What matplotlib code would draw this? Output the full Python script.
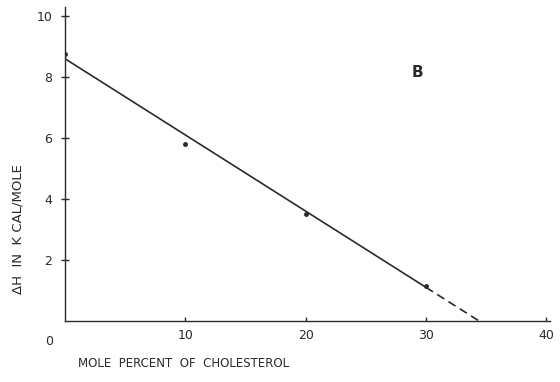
import numpy as np
import matplotlib
matplotlib.use("Agg")
import matplotlib.pyplot as plt

# measured points (mole % cholesterol vs dH in kcal/mole)
chol = [0, 10, 20, 30]
dh = [8.75, 5.8, 3.5, 1.15]

# fitted line: solid over data range, dashed extrapolation to zero
fit_x = [0, 30]
fit_y = [8.6, 1.1]
extrap_x = [30, 34.4]
extrap_y = [1.1, 0.0]

xticks = [10, 20, 30, 40]
yticks = [2, 4, 6, 8, 10]

ink = "#2a2a2a"

fig = plt.figure(figsize=(5.6, 3.82), dpi=100)
ax = fig.add_axes([0.116, 0.160, 0.866, 0.822])

ax.plot(fit_x, fit_y, color=ink, lw=1.2)
ax.plot(extrap_x, extrap_y, color=ink, lw=1.2, ls=(0, (5, 3)))
ax.plot(chol, dh, "o", color=ink, ms=2.5)

ax.set_xlim(0, 40.3)
ax.set_ylim(0, 10.3)
ax.set_xticks(xticks)
ax.set_yticks(yticks)
ax.set_xticklabels([str(t) for t in xticks])
ax.set_yticklabels([str(t) for t in yticks])

for s in ["top", "right"]:
    ax.spines[s].set_visible(False)
for s in ["left", "bottom"]:
    ax.spines[s].set_color(ink)
    ax.spines[s].set_linewidth(1.0)

ax.tick_params(axis="y", direction="inout", length=6, width=1, colors=ink, labelsize=9, pad=6)
ax.tick_params(axis="x", direction="in", length=3, width=1, colors=ink, labelsize=9, pad=6)

# shared origin label below the corner
ax.text(-1.3, -0.45, "0", ha="center", va="top", fontsize=9, color=ink)

ax.text(29.3, 8.15, "B", fontsize=11, fontweight="bold", color=ink, ha="center", va="center")

fig.text(0.14, 0.032, "MOLE  PERCENT  OF  CHOLESTEROL", fontsize=8.5, color=ink,
         ha="left", va="bottom")
fig.text(0.032, 0.40, "ΔH  IN  K CAL/MOLE", fontsize=9.5, color=ink, rotation=90,
         ha="center", va="center")

fig.savefig("out.png", dpi=100, facecolor="white")
